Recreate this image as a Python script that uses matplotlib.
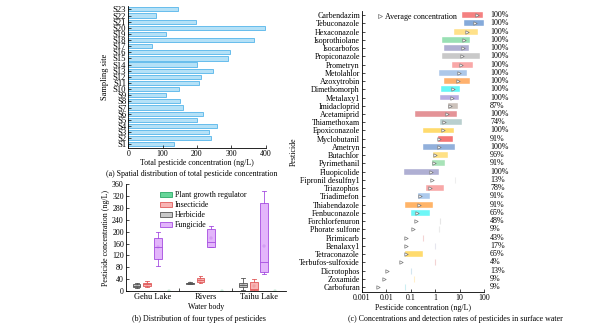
import matplotlib
matplotlib.use("Agg")
import matplotlib.pyplot as plt
from matplotlib.patches import Patch
from matplotlib.lines import Line2D
import numpy as np

plt.rcParams['font.family'] = ['Liberation Serif', 'DejaVu Serif']
plt.rcParams['font.size'] = 5.7

# ---------------- data (a) ----------------
sites = [f"S{i}" for i in range(1, 24)]
site_totals = [132, 240, 234, 259, 199, 218, 160, 151, 111, 147, 207, 213, 248,
               199, 289, 295, 69, 366, 109, 399, 196, 80, 144]

# ---------------- data (b) ----------------
water_bodies = ["Gehu Lake", "Rivers", "Taihu Lake"]
pest_types = ["Herbicide", "Insecticide", "Fungicide", "Plant growth regulator"]
# per type: lists over water bodies of (whislo, q1, med, q3, whishi, mean)
herb_stats = [(9, 12, 17, 23, 27, 17), (24, 25, 26, 28, 29, 26), (3, 13, 21, 28, 43, 21)]
insect_stats = [(12, 16, 22, 27, 35, 22), (27, 31, 38, 44, 50, 38), (0, 2, 7, 32, 40, 18)]
fung_stats = [(85, 107, 147, 178, 200, 147), (148, 150, 166, 209, 219, 178), (56, 63, 97, 296, 338, 152)]
pgr_stats = [(0, 0.2, 0.4, 0.6, 0.8, 0.4), (0, 0.2, 0.4, 0.6, 0.8, 0.4), (0, 0.2, 0.4, 0.6, 0.8, 0.4)]

# ---------------- data (c) ----------------
pesticides = ["Carbendazim", "Tebuconazole", "Hexaconazole", "Isoprothiolane", "Isocarbofos",
              "Propiconazole", "Prometryn", "Metolahlor", "Azoxytrobin", "Dimethomorph",
              "Metalaxy1", "Imidacloprid", "Acetamiprid", "Thiamethoxam", "Epoxiconazole",
              "Myclobutanil", "Ametryn", "Butachlor", "Pyrimethanil", "Fluopicolide",
              "Fipronil desulfny1", "Triazophos", "Triadimefon", "Thiabendazole", "Fenbuconazole",
              "Forchlorfenuron", "Phorate sulfone", "Pirimicarb", "Benalaxy1", "Tetraconazole",
              "Terbufos-sulfoxide", "Dicrotophos", "Zoxamide", "Carbofuran"]
conc_low = [12.2, 15.5, 6.1, 1.9, 2.4, 1.9, 4.8, 1.45, 2.3, 1.75, 1.55, 3.5, 0.15, 1.6, 0.32,
            1.3, 0.33, 0.83, 0.75, 0.053, 6.5, 0.43, 0.19, 0.06, 0.105, 1.6, 1.4, 0.32, 1.0,
            0.057, 0.94, 0.105, 0.14, 0.057]
conc_high = [87, 100, 55, 27, 25, 68, 34, 19.5, 26, 10.4, 9.2, 8.9, 7.8, 12.9, 6.1, 5.2, 6.5,
             3.3, 2.6, 1.4, 6.5, 2.3, 0.59, 0.81, 0.59, 1.6, 1.4, 0.32, 1.0, 0.33, 0.94, 0.105,
             0.14, 0.057]
conc_avg = [51, 42, 19.5, 15.5, 13.4, 12.5, 11.4, 9.7, 8.4, 5.5, 4.8, 4.1, 3.0, 2.3, 2.1, 1.5,
            1.4, 1.0, 0.89, 0.69, 0.73, 0.63, 0.23, 0.22, 0.18, 0.16, 0.12, 0.066, 0.062, 0.066,
            0.039, 0.011, 0.0082, 0.0047]
detect_rate = [100, 100, 100, 100, 100, 100, 100, 100, 100, 100, 100, 87, 100, 74, 100, 91, 100,
               96, 91, 100, 13, 78, 91, 91, 65, 48, 9, 43, 17, 65, 4, 13, 9, 9]
bar_colors = ['#f47a7a', '#7fa6d8', '#ffe084', '#94dfb0', '#ababd0', '#c6c6c6', '#f9a3a3',
              '#a9c5e8', '#ffad66', '#5ef7f7', '#b3a9e0', '#cabfb8', '#e38d92', '#b6cdcc',
              '#ffd966', '#f56f6f', '#8cacd9', '#ffe07f', '#a3e2b4', '#ababd1', '#eeeeee',
              '#f8a3a3', '#a9c8ec', '#ffb060', '#66f7f7', '#e6e6e6', '#ebebeb', '#f4d4d4',
              '#e6e6ee', '#ffd966', '#f3d3d3', '#d4e6f0', '#fff0cc', '#cdeef2']

fig = plt.figure(figsize=(6.11, 3.29), dpi=100)
W, H = 611, 329

def axrect(x0, y0, x1, y1):
    return [x0 / W, 1 - y1 / H, (x1 - x0) / W, (y1 - y0) / H]

def style(ax):
    ax.spines['top'].set_visible(False)
    ax.spines['right'].set_visible(False)
    for s in ['left', 'bottom']:
        ax.spines[s].set_linewidth(0.6)
    ax.tick_params(direction='in', length=2, width=0.5, pad=1.5, labelsize=5.7)

# ---------------- panel (a) ----------------
axa = fig.add_axes(axrect(128.3, 5.7, 265.7, 148))
style(axa)
ya = np.arange(len(sites))
axa.barh(ya, site_totals, height=0.68, color='#b5e1f7', edgecolor='#55b5ea', linewidth=0.6)
axa.set_yticks(ya)
axa.set_yticklabels(sites, fontsize=6.2)
axa.set_ylim(-0.6, len(sites) - 0.4)
axa.set_xlim(0, 400)
axa.set_xticks([0, 100, 200, 300, 400])
axa.set_xlabel("Total pesticide concentration (ng/L)", labelpad=1)
axa.set_ylabel("Sampling site", labelpad=2.5, fontsize=6)
fig.text(192 / W, 1 - 174 / H, "(a) Spatial distribution of total pesticide concentration",
         ha='center', va='center', fontsize=5.7)

# ---------------- panel (b) ----------------
axb = fig.add_axes(axrect(126, 184.3, 285.6, 291))
style(axb)
type_data = [herb_stats, insect_stats, fung_stats, pgr_stats]
edge_cols = ['#555555', '#e05a5a', '#a54de0', '#2aa866']
face_cols = ['#c8c8c8', '#f8b4b4', '#e3b5fb', '#66d699']
offsets = [-0.3, -0.1, 0.1, 0.3]
xb = np.arange(len(water_bodies))
for t, stats in enumerate(type_data):
    bstats = []
    for s in stats:
        bstats.append(dict(whislo=s[0], q1=s[1], med=s[2], q3=s[3], whishi=s[4], mean=s[5], fliers=[]))
    ec = edge_cols[t]
    axb.bxp(bstats, positions=xb + offsets[t], widths=0.145, patch_artist=True, showmeans=True,
            showfliers=False, manage_ticks=False,
            boxprops=dict(facecolor=face_cols[t], edgecolor=ec, linewidth=0.6),
            medianprops=dict(color=ec, linewidth=0.6),
            whiskerprops=dict(color=ec, linewidth=0.6),
            capprops=dict(color=ec, linewidth=0.6),
            capwidths=0.07,
            meanprops=dict(marker='s', markersize=1.6, markerfacecolor='none',
                           markeredgecolor=ec, markeredgewidth=0.3, alpha=0.6))
axb.set_xlim(-0.5, 2.5)
axb.set_ylim(0, 360)
axb.set_yticks(np.arange(0, 361, 40))
axb.set_xticks(xb)
axb.set_xticklabels(water_bodies, fontsize=6)
axb.set_xticks([0.5, 1.5], minor=True)
axb.tick_params(axis='x', which='major', length=0)
axb.tick_params(axis='x', which='minor', direction='in', length=2, width=0.5)
axb.set_xlabel("Water body", labelpad=1.5)
axb.set_ylabel("Pesticide concentration (ng/L)", labelpad=1.5)
leg_order = [3, 1, 0, 2]
handles = [Patch(facecolor=face_cols[i], edgecolor=edge_cols[i], linewidth=0.6) for i in leg_order]
axb.legend(handles, [pest_types[i] for i in leg_order], loc='upper left',
           bbox_to_anchor=(0.18, 0.99), frameon=False, fontsize=5.7, handlelength=1.5,
           handleheight=0.6, handletextpad=0.3, labelspacing=0.25, borderpad=0.2)
fig.text(199 / W, 1 - 319 / H, "(b) Distribution of four types of pesticides",
         ha='center', va='center', fontsize=5.7)

# ---------------- panel (c) ----------------
axc = fig.add_axes(axrect(362, 11, 484, 292))
style(axc)
yc = np.arange(len(pesticides))
low = np.array(conc_low)
high = np.array(conc_high)
for i in range(len(pesticides)):
    if high[i] > low[i]:
        axc.barh(yc[i], high[i] - low[i], left=low[i], height=0.72, color=bar_colors[i],
                 edgecolor='white', linewidth=0.3, alpha=0.95)
    else:
        axc.vlines(low[i], yc[i] - 0.36, yc[i] + 0.36, colors=bar_colors[i], linewidth=0.8)
axc.scatter(conc_avg, yc, marker='>', s=6, facecolors='white', edgecolors='#777777',
            linewidths=0.5, zorder=5)
axc.set_xscale('log')
axc.set_xlim(0.001, 100)
axc.set_xticks([0.001, 0.01, 0.1, 1, 10, 100])
axc.set_xticklabels(["0.001", "0.01", "0.1", "1", "10", "100"])
axc.xaxis.set_minor_locator(matplotlib.ticker.NullLocator())
axc.set_ylim(len(pesticides) - 0.4, -0.5)
axc.set_yticks(yc)
axc.set_yticklabels(pesticides, fontsize=5.8)
axc.set_xlabel("Pesticide concentration (ng/L)", labelpad=1.5)
axc.set_ylabel("Pesticide", labelpad=1)
for i, r in enumerate(detect_rate):
    axc.text(1.05, yc[i], f"{r}%", transform=axc.get_yaxis_transform(), ha='left',
             va='center', fontsize=5.8, clip_on=False)
axc.legend([Line2D([], [], marker='>', linestyle='none', markersize=3, markerfacecolor='white',
                   markeredgecolor='#777777', markeredgewidth=0.5)],
           ["Average concentration"], loc='upper left', bbox_to_anchor=(0.08, 1.01),
           frameon=False, fontsize=5.8, handlelength=0.8, handletextpad=0.2, borderpad=0.1)
fig.text(455 / W, 1 - 319 / H, "(c) Concentrations and detection rates of pesticides in surface water",
         ha='center', va='center', fontsize=5.7)

fig.savefig("out.png", dpi=100)
